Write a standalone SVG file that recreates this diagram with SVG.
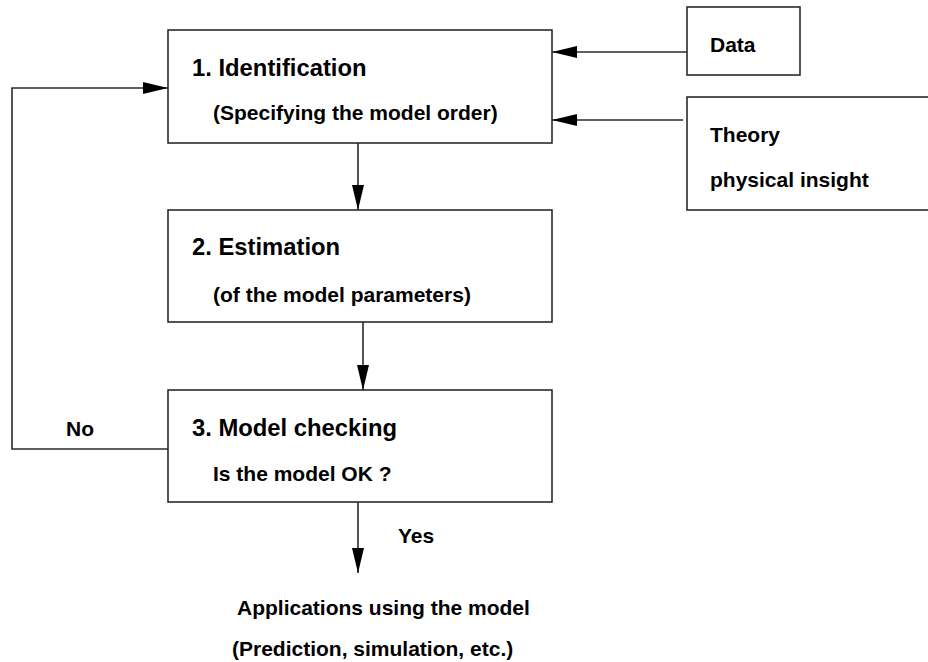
<svg xmlns="http://www.w3.org/2000/svg" width="928" height="662" viewBox="0 0 928 662">
  <style>
    .box { fill: #ffffff; stroke: #2b2b2b; stroke-width: 1.6; }
    .line { fill: none; stroke: #2b2b2b; stroke-width: 1.6; }
    text { font-family: "Liberation Sans", Arial, sans-serif; font-weight: bold; fill: #000000; }
    .h { font-size: 23.8px; }
    .s { font-size: 21px; }
  </style>
  <defs>
    <marker id="arrow" viewBox="0 0 25 12" refX="25" refY="6" markerWidth="25" markerHeight="12" markerUnits="userSpaceOnUse" orient="auto">
      <path d="M0,0 L25,6 L0,12 Z" fill="#000000"/>
    </marker>
  </defs>
  <rect width="928" height="662" fill="#ffffff"/>

  <g id="connectors">
    <line class="line" x1="687" y1="52" x2="552" y2="52" marker-end="url(#arrow)"/>
    <line class="line" x1="683" y1="120" x2="552" y2="120" marker-end="url(#arrow)"/>
    <line class="line" x1="358" y1="143" x2="358" y2="210" marker-end="url(#arrow)"/>
    <line class="line" x1="363" y1="322" x2="363" y2="390" marker-end="url(#arrow)"/>
    <line class="line" x1="358" y1="502" x2="358" y2="573" marker-end="url(#arrow)"/>
    <polyline class="line" points="168,449 12,449 12,88 168,88" marker-end="url(#arrow)"/>
    <text class="s" x="66" y="436">No</text>
    <text class="s" x="398" y="543">Yes</text>
  </g>

  <g id="identification">
    <rect class="box" x="168" y="30" width="384" height="113"/>
    <text class="h" x="192" y="76">1. Identification</text>
    <text class="s" x="213" y="120">(Specifying the model order)</text>
  </g>

  <g id="estimation">
    <rect class="box" x="168" y="210" width="384" height="112"/>
    <text class="h" x="192" y="255">2. Estimation</text>
    <text class="s" x="213" y="302">(of the model parameters)</text>
  </g>

  <g id="checking">
    <rect class="box" x="168" y="390" width="384" height="112"/>
    <text class="h" x="192" y="436">3. Model checking</text>
    <text class="s" x="213" y="481">Is the model OK ?</text>
  </g>

  <g id="data">
    <rect class="box" x="687" y="7" width="113" height="68"/>
    <text class="s" x="710" y="52">Data</text>
  </g>

  <g id="theory">
    <rect class="box" x="687" y="97" width="245" height="113"/>
    <text class="s" x="710" y="142">Theory</text>
    <text class="s" x="710" y="187">physical insight</text>
  </g>

  <g id="applications">
    <text class="s" x="237" y="615">Applications using the model</text>
    <text class="s" x="232" y="656">(Prediction, simulation, etc.)</text>
  </g>
</svg>
